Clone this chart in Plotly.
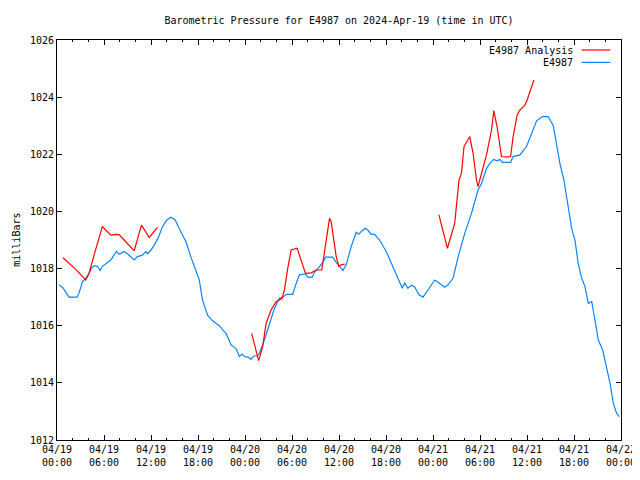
import plotly.graph_objects as go
import pandas as pd

title_text = "Barometric Pressure for E4987 on 2024-Apr-19 (time in UTC)"
y_title = "milliBars"
series_names = ["E4987 Analysis", "E4987"]
start_day = "2024-04-19 00:00"
end_day = "2024-04-22 00:00"

# Observed pressure (hours since 2024-04-19 00:00 UTC, mb)
obs_hours = [0.26, 0.77, 1.53, 2.56, 2.81, 3.24, 3.67, 4.09, 4.39, 4.73, 5.15, 5.50, 5.79, 6.23,
             6.87, 7.58, 7.93, 8.57, 8.99, 9.85, 10.27, 10.91, 11.34, 11.55, 11.98, 12.41, 12.96,
             13.47, 14.03, 14.54, 15.09, 15.60, 16.46, 17.10, 17.74, 18.16, 18.58, 19.22, 19.86,
             20.72, 21.36, 21.58, 22.22, 22.85, 23.28, 23.62, 23.92, 24.47, 24.77, 25.11, 25.54,
             25.83, 26.47, 27.11, 27.75, 28.39, 28.81, 29.33, 30.09, 30.53, 30.95, 31.72, 32.01,
             32.57, 32.87, 33.51, 34.02, 34.28, 35.21, 35.55, 36.07, 36.49, 36.92, 37.56, 38.20,
             38.53, 38.84, 39.35, 39.68, 40.12, 40.54, 41.18, 42.04, 42.88, 43.52, 44.08, 44.38,
             44.80, 45.24, 45.66, 46.21, 46.72, 47.36, 48.22, 48.85, 49.49, 49.92, 50.56, 51.20,
             52.05, 52.91, 53.75, 54.19, 54.83, 55.25, 55.76, 56.18, 56.53, 56.87, 57.90, 58.23,
             59.09, 59.94, 60.79, 61.22, 61.99, 62.71, 63.35, 63.78, 64.20, 64.71, 65.14, 65.70,
             66.12, 66.54, 66.98, 67.40, 67.82, 68.26, 68.68, 69.10, 69.66, 70.17, 70.60, 71.02,
             71.45, 71.78]
obs_mb = [1017.43, 1017.32, 1017.00, 1017.00, 1017.14, 1017.54, 1017.66, 1017.83, 1018.00, 1018.10,
          1018.08, 1017.93, 1018.08, 1018.18, 1018.30, 1018.60, 1018.50, 1018.60, 1018.52, 1018.30,
          1018.42, 1018.47, 1018.60, 1018.52, 1018.64, 1018.82, 1019.10, 1019.47, 1019.70, 1019.80,
          1019.70, 1019.40, 1018.94, 1018.40, 1017.95, 1017.60, 1016.90, 1016.37, 1016.17, 1016.00,
          1015.79, 1015.73, 1015.33, 1015.20, 1014.92, 1015.01, 1014.92, 1014.89, 1014.82, 1014.94,
          1014.94, 1015.03, 1015.50, 1016.08, 1016.60, 1016.96, 1017.00, 1017.10, 1017.10, 1017.48,
          1017.78, 1017.81, 1017.70, 1017.70, 1017.87, 1018.07, 1018.25, 1018.40, 1018.40, 1018.25,
          1018.07, 1017.93, 1018.13, 1018.77, 1019.27, 1019.20, 1019.30, 1019.41, 1019.35, 1019.20,
          1019.20, 1019.00, 1018.59, 1018.07, 1017.72, 1017.31, 1017.50, 1017.31, 1017.42, 1017.36,
          1017.08, 1017.00, 1017.25, 1017.60, 1017.48, 1017.35, 1017.43, 1017.66, 1018.40, 1019.23,
          1019.93, 1020.75, 1020.98, 1021.50, 1021.68, 1021.82, 1021.77, 1021.82, 1021.72, 1021.72,
          1021.92, 1021.98, 1022.27, 1022.85, 1023.17, 1023.32, 1023.32, 1023.00, 1022.38, 1021.68,
          1021.10, 1020.42, 1019.41, 1019.00, 1018.18, 1017.66, 1017.37, 1016.78, 1016.84, 1016.20,
          1015.50, 1015.15, 1014.51, 1013.98, 1013.28, 1012.93, 1012.82]

# Analysis pressure, three separate runs (gaps between them)
ana_hours_1 = [0.77, 2.39, 3.67, 4.09, 4.73, 5.79, 6.23, 6.87, 7.51, 7.93, 8.57, 9.85, 10.78, 11.77, 12.83]
ana_mb_1 = [1018.38, 1017.97, 1017.60, 1017.83, 1018.47, 1019.47, 1019.35, 1019.17, 1019.20, 1019.19,
            1019.00, 1018.62, 1019.52, 1019.09, 1019.44]
ana_hours_2 = [24.85, 25.74, 26.26, 26.69, 27.33, 27.97, 28.74, 29.03, 29.45, 29.89, 30.66, 31.17,
               31.72, 32.45, 33.09, 33.80, 34.15, 34.79, 35.00, 35.64, 35.98, 36.28, 36.79]
ana_mb_2 = [1015.73, 1014.78, 1015.27, 1016.08, 1016.55, 1016.84, 1016.96, 1017.25, 1018.00, 1018.65,
            1018.71, 1018.30, 1017.83, 1017.85, 1017.95, 1017.95, 1018.65, 1019.76, 1019.64, 1018.42,
            1018.07, 1018.13, 1018.16]
ana_hours_3 = [48.76, 49.84, 50.77, 51.32, 51.63, 51.96, 52.69, 53.12, 53.55, 53.75, 54.19, 54.83,
               55.47, 55.76, 56.18, 56.75, 57.46, 57.90, 58.23, 58.74, 59.09, 59.73, 60.02, 60.46, 60.88]
ana_mb_3 = [1019.88, 1018.71, 1019.58, 1021.10, 1021.33, 1022.27, 1022.62, 1022.03, 1021.10, 1020.87,
            1021.33, 1021.98, 1022.85, 1023.52, 1022.97, 1021.92, 1021.90, 1021.92, 1022.62, 1023.38,
            1023.55, 1023.72, 1023.90, 1024.27, 1024.60]

base = pd.Timestamp(start_day)


def to_time(hours):
    return list(base + pd.to_timedelta(hours, unit="h"))


ana_x = to_time(ana_hours_1) + [None] + to_time(ana_hours_2) + [None] + to_time(ana_hours_3)
ana_y = ana_mb_1 + [None] + ana_mb_2 + [None] + ana_mb_3

RED = "#ff0000"
BLUE = "#0a84ff"
FONT = "DejaVu Sans Mono"

fig = go.Figure()
fig.add_trace(go.Scatter(x=to_time(obs_hours), y=obs_mb, mode="lines", name=series_names[1],
                         line=dict(color=BLUE, width=1.2), showlegend=False))
fig.add_trace(go.Scatter(x=ana_x, y=ana_y, mode="lines", name=series_names[0], connectgaps=False,
                         line=dict(color=RED, width=1.2), showlegend=False))

axis_common = dict(showline=True, linecolor="black", linewidth=1, mirror="allticks",
                   ticks="inside", tickcolor="black", showgrid=False, zeroline=False,
                   automargin=False,
                   tickfont=dict(family=FONT, size=10, color="black"))

fig.update_xaxes(type="date", range=[start_day, end_day], tick0=start_day, dtick=6 * 3600 * 1000,
                 tickformat="%m/%d<br>%H:%M", ticklen=5,
                 minor=dict(tickmode="linear", tick0=start_day, dtick=2 * 3600 * 1000,
                            ticks="inside", ticklen=2, tickcolor="black"),
                 **axis_common)
fig.update_yaxes(range=[1012, 1026], dtick=2, ticklen=5, **axis_common)

# Legend drawn gnuplot-style (text then line sample, top right)
legend_rows = [(0.975, series_names[0], RED), (0.944, series_names[1], BLUE)]
for ypos, label, col in legend_rows:
    fig.add_annotation(xref="paper", yref="paper", x=0.918, y=ypos, text=label, showarrow=False,
                       xanchor="right", yanchor="middle", font=dict(family=FONT, size=10, color="black"))
    fig.add_shape(type="line", xref="paper", yref="paper", x0=0.930, x1=0.981, y0=ypos, y1=ypos,
                  line=dict(color=col, width=1.2))

fig.add_annotation(xref="paper", yref="paper", x=-0.0865, y=0.5, text=y_title, showarrow=False,
                   textangle=-90, xanchor="left", yanchor="middle",
                   font=dict(family=FONT, size=10, color="black"))

# The page adds an 8px body margin, so the figure is sized to fit inside the window.
fig.update_layout(
    width=632, height=472,
    margin=dict(l=49, r=19, t=32, b=40, autoexpand=False),
    paper_bgcolor="white", plot_bgcolor="white",
    title=dict(text=title_text, x=0.5, xref="paper", xanchor="center",
               yref="container", y=1 - 12 / 472, yanchor="middle", automargin=False,
               font=dict(family=FONT, size=10, color="black")),
)

fig.write_html("out.html", config={"displayModeBar": False})
